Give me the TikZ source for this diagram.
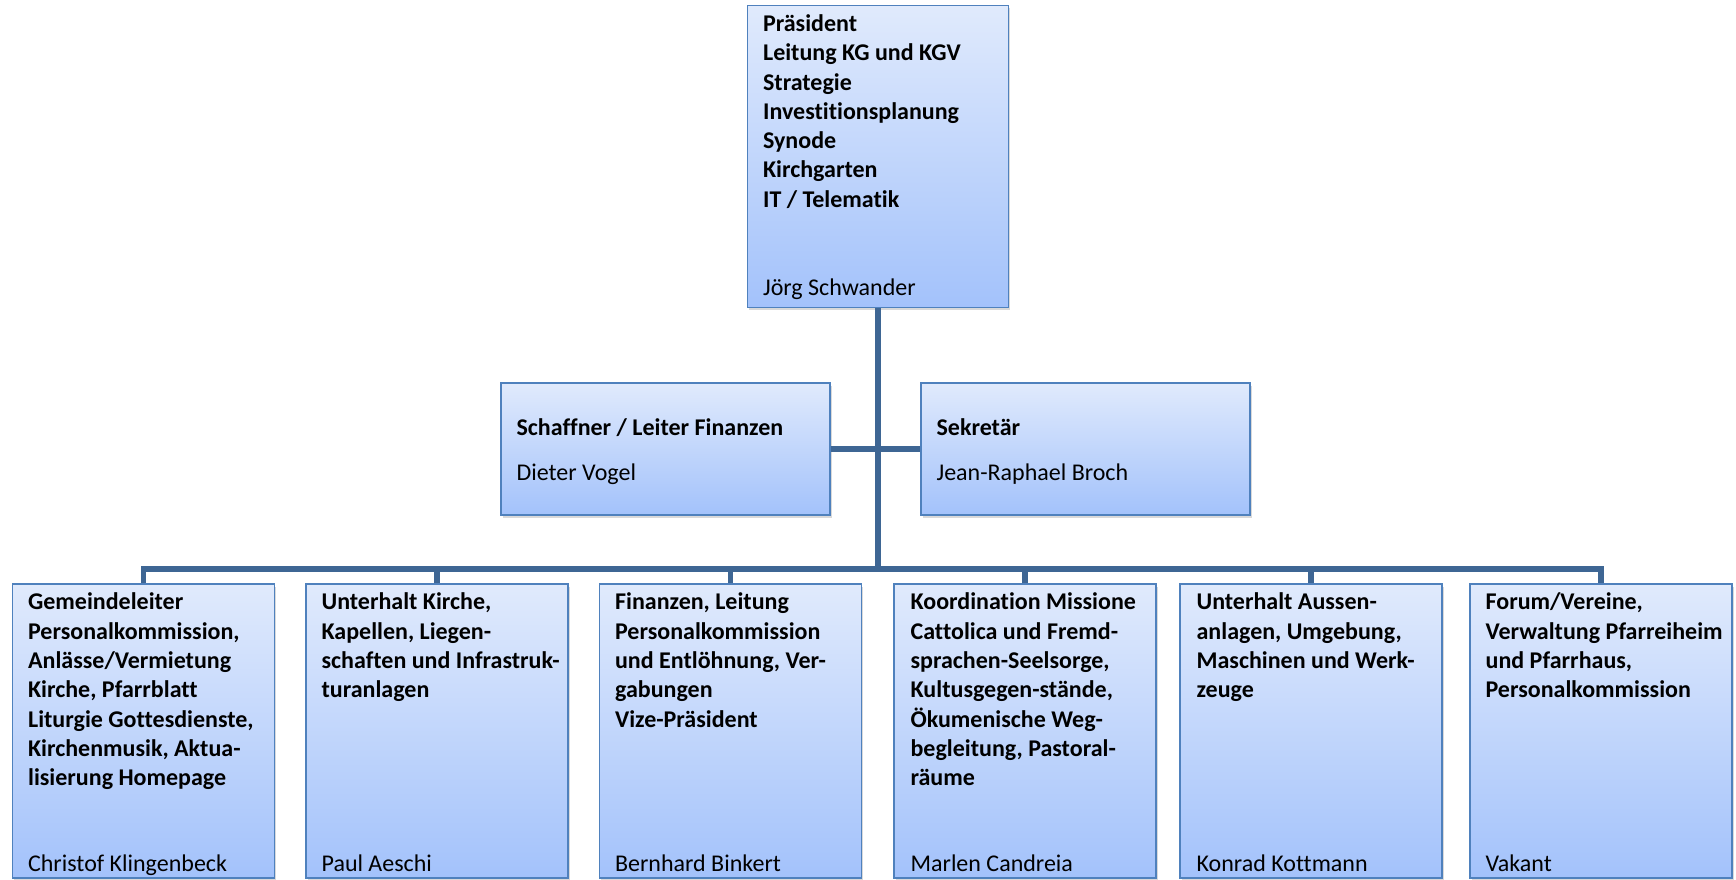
\documentclass[tikz,border=0pt]{standalone}
\usepackage{fontspec}
\setmainfont{Carlito}[Ligatures=NoCommon]
\usetikzlibrary{calc,shadows}
\definecolor{boxtop}{HTML}{E0EAFC}
\definecolor{boxbot}{HTML}{A3C2FB}
\definecolor{boxline}{HTML}{4F81BD}
\definecolor{linkcol}{HTML}{3E6694}
\tikzset{
  box/.style={rectangle,draw=boxline,line width=0.8pt,top color=boxtop,bottom color=boxbot,
    minimum width=131pt,minimum height=147pt,inner sep=0pt,
    drop shadow={shadow xshift=0.8pt,shadow yshift=-1.4pt,opacity=0.3}},
  lead/.style={anchor=north west,inner sep=0pt,align=left,font=\fontsize{12}{14.65}\selectfont\bfseries},
  person/.style={anchor=base west,inner sep=0pt,font=\fontsize{12}{14.65}\selectfont},
  leadline/.style={person,font=\fontsize{12}{14.65}\selectfont\bfseries},
  link/.style={draw=linkcol,line width=2.6pt}
}
\begin{document}
\begin{tikzpicture}[x=0.5pt,y=-0.5pt]
  \useasboundingbox (0,0) rectangle (1736,879);
  % top
  \node[box,minimum width=130.5pt,minimum height=151pt] (praes) at (878,156.5) {};
  \node[lead] (praestxt) at ($(praes.north west)+(16,9.5)$)
    {Präsident\\Leitung KG und KGV\\Strategie\\Investitionsplanung\\Synode\\Kirchgarten\\IT / Telematik};
  \node[person] (praesname) at ($(praes.south west)+(16,-13)$) {Jörg Schwander};
  % staff
  \node[box,minimum width=164.5pt,minimum height=66pt] (schaffner) at (665.5,449) {};
  \node[leadline] (schaffnertxt) at ($(schaffner.north west)+(16,53)$) {Schaffner / Leiter Finanzen};
  \node[person] (schaffnername) at ($(schaffner.north west)+(16,98)$) {Dieter Vogel};
  \node[box,minimum width=164.5pt,minimum height=66pt] (sekr) at (1085.5,449) {};
  \node[leadline] (sekrtxt) at ($(sekr.north west)+(16,53)$) {Sekretär};
  \node[person] (sekrname) at ($(sekr.north west)+(16,98)$) {Jean-Raphael Broch};
  % departments
  \node[box] (b1) at (143.5,731) {};
  \node[box] (b2) at (437,731) {};
  \node[box] (b3) at (730.5,731) {};
  \node[box] (b4) at (1025,731) {};
  \node[box] (b5) at (1311,731) {};
  \node[box] (b6) at (1601,731) {};
  \node[lead] (b1txt) at ($(b1.north west)+(16,9.5)$)
    {Gemeindeleiter\\Personalkommission,\\Anlässe/Vermietung\\Kirche, Pfarrblatt\\Liturgie Gottesdienste,\\Kirchenmusik, Aktua-\\lisierung Homepage};
  \node[lead] (b2txt) at ($(b2.north west)+(16,9.5)$)
    {Unterhalt Kirche,\\Kapellen, Liegen-\\schaften und Infrastruk-\\turanlagen};
  \node[lead] (b3txt) at ($(b3.north west)+(16,9.5)$)
    {Finanzen, Leitung\\Personalkommission\\und Entlöhnung, Ver-\\gabungen\\Vize-Präsident};
  \node[lead] (b4txt) at ($(b4.north west)+(17,9.5)$)
    {Koordination Missione\\Cattolica und Fremd-\\sprachen-Seelsorge,\\Kultusgegen-stände,\\Ökumenische Weg-\\begleitung, Pastoral-\\räume};
  \node[lead] (b5txt) at ($(b5.north west)+(17,9.5)$)
    {Unterhalt Aussen-\\anlagen, Umgebung,\\Maschinen und Werk-\\zeuge};
  \node[lead] (b6txt) at ($(b6.north west)+(16,9.5)$)
    {Forum/Vereine,\\Verwaltung Pfarreiheim\\und Pfarrhaus,\\Personalkommission};
  \node[person] (b1name) at ($(b1.south west)+(16,-7)$) {Christof Klingenbeck};
  \node[person] (b2name) at ($(b2.south west)+(16,-7)$) {Paul Aeschi};
  \node[person] (b3name) at ($(b3.south west)+(16,-7)$) {Bernhard Binkert};
  \node[person] (b4name) at ($(b4.south west)+(17,-7)$) {Marlen Candreia};
  \node[person] (b5name) at ($(b5.south west)+(17,-7)$) {Konrad Kottmann};
  \node[person] (b6name) at ($(b6.south west)+(16,-7)$) {Vakant};
  % connectors
  \coordinate (bus) at (878,569);
  \draw[link] (praes.south) -- (bus);
  \draw[link] (schaffner.east) -- (sekr.west);
  \draw[link] (b1.north) |- (bus) -| (b6.north);
  \foreach \b in {b2,b3,b4,b5} \draw[link] (\b.north) -- (\b.north |- bus);
\end{tikzpicture}
\end{document}
